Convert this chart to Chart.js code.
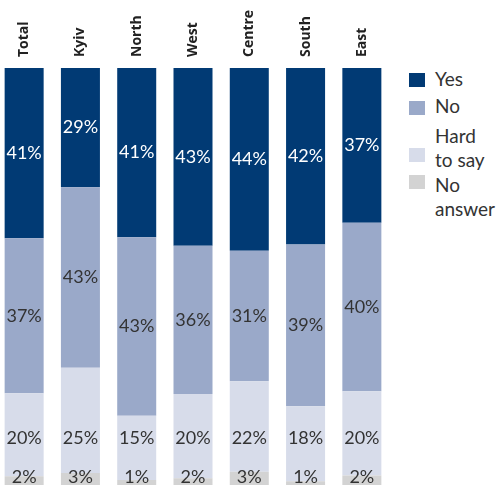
<!DOCTYPE html>
<html>
<head>
<meta charset="utf-8">
<script src="https://cdn.jsdelivr.net/npm/chart.js@4"></script>
<style>
  html, body { margin: 0; padding: 0; background: #fff; }
  body { width: 499px; height: 485px; position: relative; overflow: hidden; }
  #wrap { position: absolute; left: -4px; top: 0; width: 394px; height: 485px; }
  #legend { position: absolute; left: 409px; top: 0; width: 90px; height: 485px; font-family: Lato, "Open Sans", sans-serif; font-size: 19px; color: #333; }
  .box { position: absolute; left: 0; width: 16px; height: 14px; }
  .txt { position: absolute; left: 26px; line-height: 24px; white-space: nowrap; }
</style>
</head>
<body>
<div id="wrap"><canvas id="c"></canvas></div>
<div id="legend"></div>
<script>
const categories = ["Total", "Kyiv", "North", "West", "Centre", "South", "East"];
const seriesNames = ["Yes", "No", "Hard to say", "No answer"];
const yesValues      = [40.8, 28.6, 40.6, 42.6, 43.8, 42.3, 37.1];
const noValues       = [37.2, 43.3, 42.8, 35.6, 31.3, 38.8, 40.4];
const hardValues     = [19.9, 25.2, 15.4, 20.2, 21.7, 18.0, 20.2];
const noAnswerValues = [2.1, 2.9, 1.2, 1.6, 3.2, 0.9, 2.3];
const colors = ["#013a74", "#9aa9c9", "#d7dcea", "#d3d3d3"];
const labelColors = ["#ffffff", "#333333", "#333333", "#333333"];

const seriesValues = [yesValues, noValues, hardValues, noAnswerValues];
// stack bottom-to-top: No answer, Hard to say, No, Yes
const order = [3, 2, 1, 0];
const datasets = order.map(i => ({
  label: seriesNames[i],
  data: seriesValues[i],
  backgroundColor: colors[i],
  borderWidth: 0,
  barPercentage: 0.693,
  categoryPercentage: 1.0,
  _labelColor: labelColors[i]
}));

const valueLabels = {
  id: 'valueLabels',
  afterDatasetsDraw(chart) {
    const ctx = chart.ctx;
    const ys = chart.scales.y;
    ctx.save();
    ctx.font = '400 18px Lato, "Open Sans", sans-serif';
    ctx.textAlign = 'center';
    ctx.textBaseline = 'middle';
    chart.data.datasets.forEach((ds, di) => {
      const meta = chart.getDatasetMeta(di);
      meta.data.forEach((bar, i) => {
        const v = ds.data[i];
        let y = (bar.y + bar.base) / 2;
        if (ds.label === 'Hard to say') y = ys.getPixelForValue(11.3);
        if (ds.label === 'No answer') y = ys.getPixelForValue(1.9);
        ctx.fillStyle = ds._labelColor;
        ctx.fillText(Math.round(v) + '%', bar.x, y);
      });
    });
    ctx.restore();
  }
};

const categoryLabels = {
  id: 'categoryLabels',
  afterDraw(chart) {
    const ctx = chart.ctx;
    const xs = chart.scales.x;
    ctx.save();
    ctx.font = '700 14px "Open Sans", Lato, sans-serif';
    ctx.fillStyle = '#222';
    ctx.textAlign = 'left';
    ctx.textBaseline = 'middle';
    categories.forEach((c, i) => {
      const x = xs.getPixelForValue(i);
      ctx.save();
      ctx.translate(x, chart.chartArea.top - 11);
      ctx.rotate(-Math.PI / 2);
      ctx.fillText(c, 0, 0);
      ctx.restore();
    });
    ctx.restore();
  }
};

new Chart(document.getElementById('c'), {
  type: 'bar',
  data: { labels: categories, datasets },
  options: {
    responsive: true,
    maintainAspectRatio: false,
    animation: false,
    layout: { padding: { left: 0, right: 0, top: 68, bottom: 0 } },
    plugins: { legend: { display: false }, tooltip: { enabled: false } },
    scales: {
      x: { stacked: true, display: false },
      y: { stacked: true, display: false, min: 0, max: 100 }
    }
  },
  plugins: [valueLabels, categoryLabels]
});

// legend (HTML)
const legendItems = [
  { lines: ["Yes"], color: colors[0], textTop: 67, boxTop: 73 },
  { lines: ["No"], color: colors[1], textTop: 94, boxTop: 101 },
  { lines: ["Hard", "to say"], color: colors[2], textTop: 124, boxTop: 148 },
  { lines: ["No", "answer"], color: colors[3], textTop: 173, boxTop: 175 }
];
const lg = document.getElementById('legend');
legendItems.forEach(it => {
  const box = document.createElement('div');
  box.className = 'box';
  box.style.top = it.boxTop + 'px';
  box.style.background = it.color;
  lg.appendChild(box);
  const t = document.createElement('div');
  t.className = 'txt';
  t.style.top = it.textTop + 'px';
  t.innerHTML = it.lines.join('<br>');
  lg.appendChild(t);
});
</script>
</body>
</html>
